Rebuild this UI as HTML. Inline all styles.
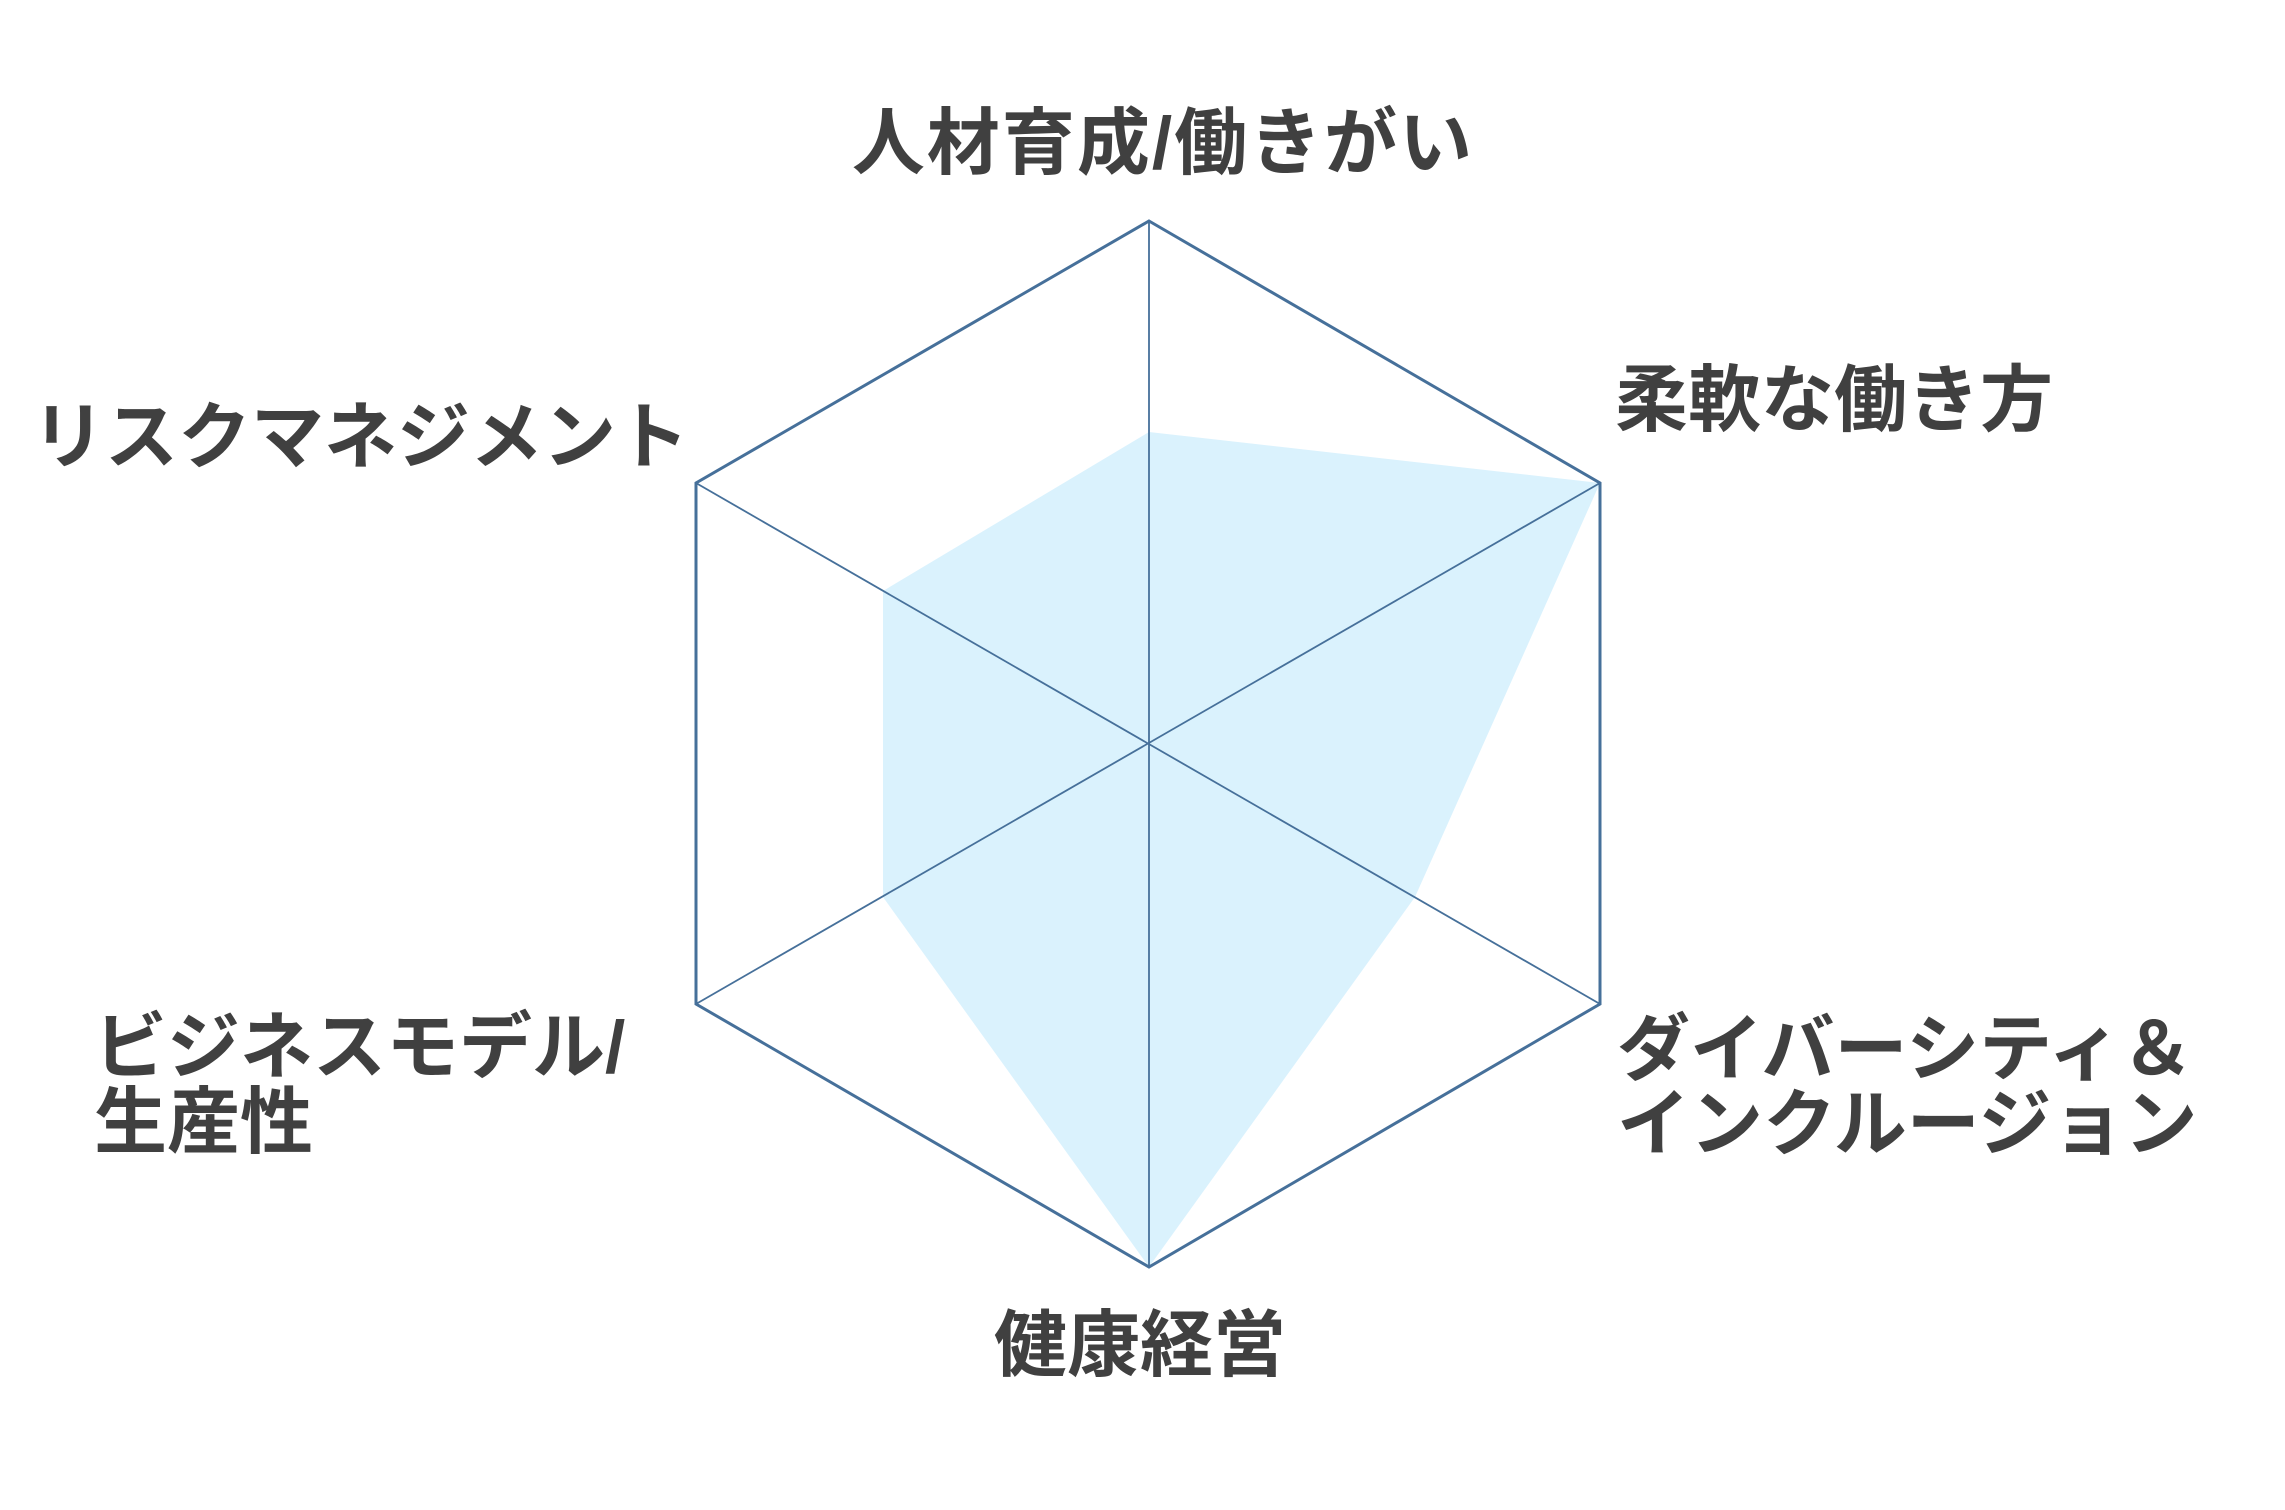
<!DOCTYPE html>
<html><head><meta charset="utf-8"><style>
html,body{margin:0;padding:0;background:#fff;}
svg{display:block;}
text{font-family:"Liberation Sans","Noto Sans CJK JP",sans-serif;font-weight:bold;fill:#404040;font-size:73px;}
</style></head><body>
<svg width="2285" height="1510" viewBox="0 0 2285 1510" xmlns="http://www.w3.org/2000/svg">
<polygon points="1149,432 1600,483 1415,897 1149,1267 883,897 883,591" fill="#daf2fd"/>
<g stroke="#46709a" stroke-width="1.8" fill="none">
<line x1="1149" y1="221" x2="1149" y2="1267"/>
<line x1="696" y1="483" x2="1600" y2="1004"/>
<line x1="1600" y1="483" x2="696" y2="1004"/>
</g>
<polygon points="1149,221 1600,483 1600,1004 1149,1267 696,1004 696,483" fill="none" stroke="#46709a" stroke-width="3"/>
<text x="1163" y="168" text-anchor="middle" letter-spacing="2">人材育成/働きがい</text>
<text x="1615" y="425">柔軟な働き方</text>
<text x="689" y="462" text-anchor="end">リスクマネジメント</text>
<text x="1617" y="1074">ダイバーシティ＆</text>
<text x="1617" y="1149">インクルージョン</text>
<text x="1140" y="1370" text-anchor="middle">健康経営</text>
<text x="94" y="1072">ビジネスモデル/</text>
<text x="94" y="1147">生産性</text>
</svg>
</body></html>
